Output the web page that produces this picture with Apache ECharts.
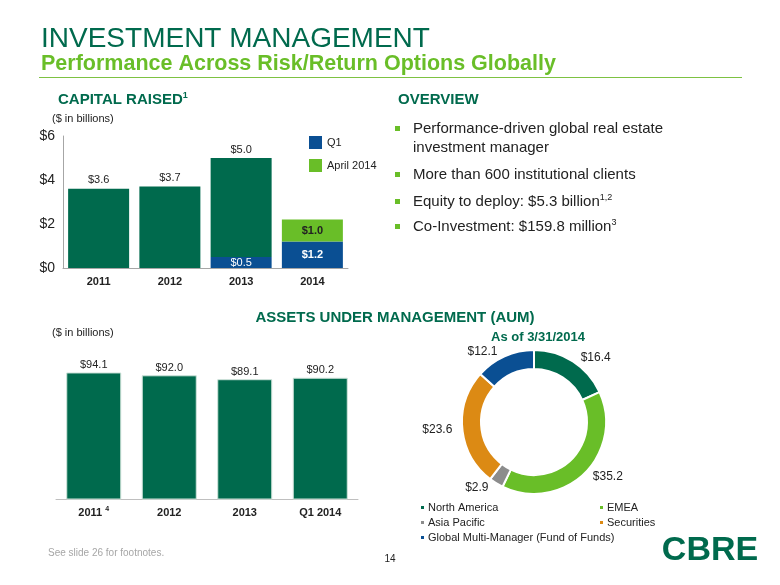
<!DOCTYPE html>
<html>
<head>
<meta charset="utf-8">
<script src="https://cdn.jsdelivr.net/npm/echarts@6/dist/echarts.min.js"></script>
<style>
html,body{margin:0;padding:0;background:#fff;}
#c{width:780px;height:585px;}
</style>
</head>
<body>
<div id="c"></div>
<script>
// ---- data ----
const capYears = ['2011', '2012', '2013', '2014'];
const capTotal = [3.6, 3.7, 5.0, null];
const capQ1 = [null, null, 0.5, 1.2];
const capApril = [null, null, null, 1.0];
const capTicks = [0, 2, 4, 6];

const aumCats = ['2011', '2012', '2013', 'Q1 2014'];
const aumValues = [94.1, 92.0, 89.1, 90.2];

const regionNames = ['North America', 'EMEA', 'Asia Pacific', 'Securities', 'Global Multi-Manager (Fund of Funds)'];
const regionValues = [16.4, 35.2, 2.9, 23.6, 12.1];

const overviewLines = [
  ['Performance-driven global real estate', 'investment manager'],
  ['More than 600 institutional clients'],
  ['Equity to deploy: $5.3 billion', '1,2'],
  ['Co-Investment: $159.8 million', '3']
];

// ---- styles ----
const FONT = '"Liberation Sans", Arial, Helvetica, sans-serif';
const DKGREEN = '#006A4D';
const LTGREEN = '#69BE28';
const BLUE = '#0A4F93';
const ORANGE = '#DC8A14';
const GRAY = '#8C8C8C';
const TXT = '#222222';
const regionColors = [DKGREEN, LTGREEN, GRAY, ORANGE, BLUE];

const chart = echarts.init(document.getElementById('c'), null, {renderer: 'canvas'});

function fmt(v) { return '$' + v.toFixed(1); }

const darkSeg = capTotal.map((t, i) => t == null ? null : +(t - (capQ1[i] || 0)).toFixed(2));

const graphics = [
  {type: 'text', x: 41, y: 39, style: {text: 'INVESTMENT MANAGEMENT', font: '28px ' + FONT, fill: DKGREEN, verticalAlign: 'middle'}},
  {type: 'text', x: 41, y: 64, style: {text: 'Performance Across Risk/Return Options Globally', font: 'bold 21.5px ' + FONT, fill: LTGREEN, verticalAlign: 'middle'}},
  {type: 'rect', shape: {x: 39, y: 77, width: 703, height: 1}, style: {fill: '#7DC242'}},
  {type: 'text', x: 58, y: 100, style: {text: '{a|CAPITAL RAISED}{s|1}', fill: DKGREEN, verticalAlign: 'middle',
    rich: {a: {font: 'bold 15px ' + FONT, fill: DKGREEN, lineHeight: 18}, s: {font: 'bold 9px ' + FONT, fill: DKGREEN, verticalAlign: 'top', lineHeight: 18}}}},
  {type: 'text', x: 52, y: 119, style: {text: '($ in billions)', font: '11px ' + FONT, fill: TXT, verticalAlign: 'middle'}},
  {type: 'text', x: 398, y: 100, style: {text: 'OVERVIEW', font: 'bold 15px ' + FONT, fill: DKGREEN, verticalAlign: 'middle'}},
  {type: 'text', x: 395, y: 318, style: {text: 'ASSETS UNDER MANAGEMENT (AUM)', font: 'bold 15px ' + FONT, fill: DKGREEN, align: 'center', verticalAlign: 'middle'}},
  {type: 'text', x: 538, y: 337, style: {text: 'As of 3/31/2014', font: 'bold 13px ' + FONT, fill: DKGREEN, align: 'center', verticalAlign: 'middle'}},
  {type: 'text', x: 52, y: 333, style: {text: '($ in billions)', font: '11px ' + FONT, fill: TXT, verticalAlign: 'middle'}},
  {type: 'text', x: 48, y: 553, style: {text: 'See slide 26 for footnotes.', font: '10px ' + FONT, fill: '#A6A6A6', verticalAlign: 'middle'}},
  {type: 'text', x: 390, y: 559, style: {text: '14', font: '10px ' + FONT, fill: TXT, align: 'center', verticalAlign: 'middle'}},
  {type: 'text', x: 710, y: 551, style: {text: 'CBRE', font: 'bold 34px ' + FONT, fill: DKGREEN, align: 'center', verticalAlign: 'middle'}}
];

// overview bullets
const bulletYs = [[129, 148], [175], [202], [227]];
overviewLines.forEach((ln, i) => {
  const y0 = bulletYs[i][0];
  graphics.push({type: 'rect', shape: {x: 395, y: y0 - 3, width: 5, height: 5}, style: {fill: LTGREEN}});
  if (i === 0) {
    graphics.push({type: 'text', x: 413, y: bulletYs[i][0], style: {text: ln[0], font: '15px ' + FONT, fill: TXT, verticalAlign: 'middle'}});
    graphics.push({type: 'text', x: 413, y: bulletYs[i][1], style: {text: ln[1], font: '15px ' + FONT, fill: TXT, verticalAlign: 'middle'}});
  } else if (ln.length === 1) {
    graphics.push({type: 'text', x: 413, y: y0, style: {text: ln[0], font: '15px ' + FONT, fill: TXT, verticalAlign: 'middle'}});
  } else {
    graphics.push({type: 'text', x: 413, y: y0, style: {text: '{a|' + ln[0] + '}{s|' + ln[1] + '}', verticalAlign: 'middle',
      rich: {a: {font: '15px ' + FONT, fill: TXT, lineHeight: 18}, s: {font: '9px ' + FONT, fill: TXT, verticalAlign: 'top', lineHeight: 18}}}});
  }
});

const option = {
  animation: false,
  backgroundColor: '#ffffff',
  textStyle: {fontFamily: FONT},
  graphic: graphics,
  legend: [
    {data: ['Q1', 'April 2014'], orient: 'vertical', left: 309, top: 136, padding: 0, itemWidth: 13, itemHeight: 13, itemGap: 10,
      icon: 'rect', textStyle: {fontSize: 11, color: TXT, fontFamily: FONT, lineHeight: 13}, selectedMode: false},
    {data: [regionNames[0], regionNames[2], regionNames[4]], orient: 'vertical', left: 419, top: 501, padding: 0, itemWidth: 5, itemHeight: 5, itemGap: 2,
      icon: 'rect', textStyle: {fontSize: 11, color: TXT, fontFamily: FONT, lineHeight: 13, padding: [0, 0, 0, -2]}, selectedMode: false},
    {data: [regionNames[1], regionNames[3]], orient: 'vertical', left: 598, top: 501, padding: 0, itemWidth: 5, itemHeight: 5, itemGap: 2,
      icon: 'rect', textStyle: {fontSize: 11, color: TXT, fontFamily: FONT, lineHeight: 13, padding: [0, 0, 0, -2]}, selectedMode: false}
  ],
  grid: [
    {left: 63, top: 136, width: 285, height: 132, containLabel: false},
    {left: 56, top: 364.5, width: 302, height: 135, containLabel: false}
  ],
  xAxis: [
    {type: 'category', gridIndex: 0, data: capYears,
      axisLine: {lineStyle: {color: '#A6A6A6'}}, axisTick: {show: false},
      axisLabel: {interval: 0, fontSize: 11, fontWeight: 'bold', color: TXT, margin: 8}},
    {type: 'category', gridIndex: 1, data: aumCats,
      axisLine: {lineStyle: {color: '#BFBFBF'}}, axisTick: {show: false},
      axisLabel: {interval: 0, margin: 6, formatter: function (v, i) { return i === 0 ? '{b|' + v + ' }{s|4}' : '{b|' + v + '}'; },
        rich: {b: {fontSize: 11, fontWeight: 'bold', color: TXT, fontFamily: FONT, lineHeight: 14},
               s: {fontSize: 7, fontWeight: 'bold', color: TXT, fontFamily: FONT, verticalAlign: 'top', lineHeight: 14}}}}
  ],
  yAxis: [
    {type: 'value', gridIndex: 0, min: capTicks[0], max: capTicks[capTicks.length - 1], interval: 2,
      axisLine: {show: true, lineStyle: {color: '#A6A6A6'}}, axisTick: {show: false}, splitLine: {show: false},
      axisLabel: {fontSize: 14, color: TXT, margin: 8, formatter: v => '$' + v}},
    {type: 'value', gridIndex: 1, min: 0, max: 100, show: false, splitLine: {show: false}}
  ],
  series: [
    {name: 'Q1', type: 'bar', xAxisIndex: 0, yAxisIndex: 0, stack: 'cap', barWidth: 61,
      itemStyle: {color: BLUE},
      data: capQ1.map((v, i) => v == null ? null : {value: v,
        label: {show: true, position: 'inside', color: '#fff', fontSize: 11, fontWeight: i === 3 ? 'bold' : 'normal', formatter: p => fmt(p.value)}})},
    {name: 'Full Year', type: 'bar', xAxisIndex: 0, yAxisIndex: 0, stack: 'cap', barWidth: 61,
      itemStyle: {color: DKGREEN},
      label: {show: true, position: 'top', distance: 3, color: TXT, fontSize: 11,
        formatter: p => capTotal[p.dataIndex] == null ? '' : fmt(capTotal[p.dataIndex])},
      data: darkSeg},
    {name: 'April 2014', type: 'bar', xAxisIndex: 0, yAxisIndex: 0, stack: 'cap', barWidth: 61,
      itemStyle: {color: LTGREEN},
      label: {show: true, position: 'inside', color: TXT, fontSize: 11, fontWeight: 'bold', formatter: p => fmt(p.value)},
      data: capApril},
    {name: 'AUM', type: 'bar', xAxisIndex: 1, yAxisIndex: 1, barWidth: 55,
      itemStyle: {color: DKGREEN, borderColor: '#CFE3DA', borderWidth: 1},
      label: {show: true, position: 'top', distance: 2, color: TXT, fontSize: 11, formatter: p => fmt(p.value)},
      data: aumValues},
    {name: 'AUM by region', type: 'pie', center: [534, 422], radius: [53, 72], startAngle: 90, clockwise: true,
      avoidLabelOverlap: false,
      itemStyle: {borderColor: '#fff', borderWidth: 2},
      label: {show: true, position: 'outside', fontSize: 12, color: TXT, formatter: p => fmt(p.value)},
      labelLine: {show: false, length: 5, length2: 0},
      data: regionNames.map((n, i) => ({name: n, value: regionValues[i], itemStyle: {color: regionColors[i]}}))}
  ]
};
chart.setOption(option);
</script>
</body>
</html>
